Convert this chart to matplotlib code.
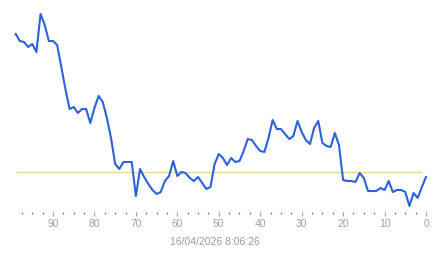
import numpy as np
import matplotlib
matplotlib.use('Agg')
import matplotlib.pyplot as plt
import matplotlib.ticker as mticker

plt.rcParams['font.family'] = ['Liberation Sans', 'DejaVu Sans']

# minutes ago (99 .. 0)
minutes = np.arange(99, -1, -1)
values = [
    13.8, 13.1, 13.0, 12.5, 12.8, 12.0, 15.8, 14.7, 13.1, 13.1,   # 99-90
    12.7, 10.5, 8.3, 6.3, 6.5, 5.9, 6.3, 6.3, 4.9, 6.4,           # 89-80
    7.6, 7.0, 5.4, 3.4, 0.8, 0.3, 1.0, 1.0, 1.0, -2.4,            # 79-70
    0.3, -0.5, -1.2, -1.8, -2.2, -2.0, -0.9, -0.4, 1.1, -0.4,     # 69-60
    0.0, -0.1, -0.6, -0.9, -0.5, -1.1, -1.7, -1.5, 0.8, 1.8,      # 59-50
    1.4, 0.7, 1.4, 1.0, 1.1, 2.1, 3.3, 3.2, 2.6, 2.1,             # 49-40
    2.0, 3.4, 5.2, 4.3, 4.3, 3.8, 3.3, 3.6, 5.1, 4.0,             # 39-30
    3.2, 2.8, 4.4, 5.1, 2.9, 2.6, 2.5, 3.9, 2.7, -0.8,            # 29-20
    -0.9, -0.9, -1.0, -0.1, -0.6, -1.9, -1.9, -1.9, -1.6, -1.8,   # 19-10
    -0.9, -2.0, -1.8, -1.8, -2.0, -3.4, -2.1, -2.6, -1.5, -0.5,   # 9-0
]
reference = 0.0
timestamp = '16/04/2026 8:06:26'

fig = plt.figure(figsize=(4.43, 2.58), dpi=100)
ax = fig.add_axes([15.7 / 443, 46 / 258, (426 - 15.7) / 443, 212 / 258])

ax.hlines(reference, 99, 1, color='#ecd98e', lw=1.0, zorder=1)
ax.plot(minutes, values, color='#2a62d8', lw=1.5, clip_on=False, zorder=2,
        solid_joinstyle='round')

ax.set_xlim(99, 0)
ax.set_ylim(-4.0, 17.2)

for s in ax.spines.values():
    s.set_visible(False)
ax.set_yticks([])
ax.xaxis.set_major_locator(mticker.MultipleLocator(10))
ax.xaxis.set_minor_locator(mticker.MultipleLocator(2.5))
ax.tick_params(axis='x', which='major', length=3.2, width=0.8, color='#9a9a9a',
               labelcolor='#a0a0a0', labelsize=7.5, pad=2)
ax.tick_params(axis='x', which='minor', length=1.1, width=0.9, color='#7a7a7a')

fig.text(215 / 443, 0.063, timestamp, ha='center', va='center',
         color='#9a9a9a', fontsize=7.5)

fig.savefig('out.png', dpi=100)
